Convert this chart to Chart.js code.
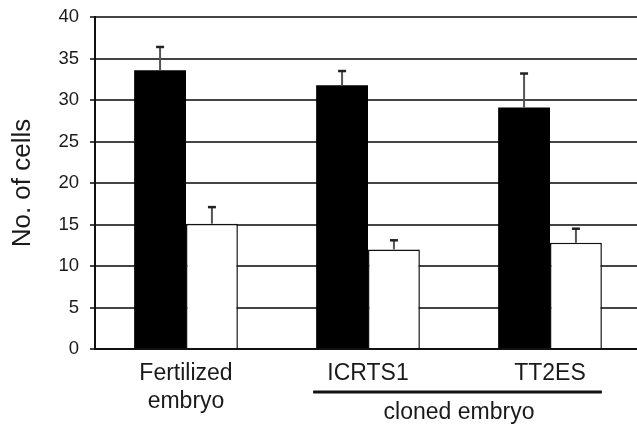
<!DOCTYPE html>
<html>
<head>
<meta charset="utf-8">
<script src="https://cdn.jsdelivr.net/npm/chart.js@4"></script>
<style>
  html, body { margin: 0; padding: 0; background: #fff; overflow: hidden; }
  #wrap { width: 641px; height: 433px; margin-top: -5px; }
</style>
</head>
<body>
<div id="wrap"><canvas id="cellChart" width="641" height="433"></canvas></div>
<script>
const categories = [["Fertilized", "embryo"], "ICRTS1", "TT2ES"];
const blackValues = [33.6, 31.8, 29.1];
const blackErrors = [2.8, 1.7, 4.1];
const whiteValues = [15.1, 12.0, 12.8];
const whiteErrors = [2.0, 1.1, 1.7];
const yTicks = [0, 5, 10, 15, 20, 25, 30, 35, 40];
const groupLabel = "cloned embryo";

const FONT = "'Liberation Sans', Arial, sans-serif";

// upward-only error bars
const errorBars = {
  id: "errorBars",
  afterDatasetsDraw(chart) {
    const ctx = chart.ctx;
    const y = chart.scales.y;
    chart.data.datasets.forEach((ds, i) => {
      const meta = chart.getDatasetMeta(i);
      meta.data.forEach((bar, j) => {
        const top = y.getPixelForValue(ds.data[j] + ds.errors[j]);
        ctx.save();
        ctx.strokeStyle = "#555";
        ctx.lineWidth = 2;
        ctx.beginPath();
        ctx.moveTo(bar.x, bar.y);
        ctx.lineTo(bar.x, top);
        ctx.stroke();
        ctx.strokeStyle = "#222";
        ctx.lineWidth = 2.5;
        ctx.beginPath();
        ctx.moveTo(bar.x - 4, top);
        ctx.lineTo(bar.x + 4, top);
        ctx.stroke();
        ctx.restore();
      });
    });
  }
};

// bracket line and label under the cloned groups
const groupBracket = {
  id: "groupBracket",
  afterDraw(chart) {
    const ctx = chart.ctx;
    const xs = chart.scales.x;
    const base = chart.chartArea.bottom;
    const bw = chart.getDatasetMeta(0).data[0].width;
    const x1 = xs.getPixelForValue(1);
    const x2 = xs.getPixelForValue(2);
    ctx.save();
    ctx.strokeStyle = "#111";
    ctx.lineWidth = 3;
    ctx.beginPath();
    ctx.moveTo(x1 - bw - 3, base + 43);
    ctx.lineTo(x2 + bw, base + 43);
    ctx.stroke();
    ctx.fillStyle = "#1a1a1a";
    ctx.font = "23px " + FONT;
    ctx.textAlign = "center";
    ctx.textBaseline = "alphabetic";
    ctx.fillText(groupLabel, (x1 + x2) / 2, base + 70);
    ctx.restore();
  }
};

const cellChart = new Chart(document.getElementById("cellChart"), {
  type: "bar",
  data: {
    labels: categories,
    datasets: [
      {
        label: "black",
        data: blackValues,
        errors: blackErrors,
        backgroundColor: "#000",
        borderWidth: 0
      },
      {
        label: "white",
        data: whiteValues,
        errors: whiteErrors,
        backgroundColor: "#fff",
        borderColor: "#111",
        borderWidth: 1.5
      }
    ]
  },
  options: {
    responsive: false,
    devicePixelRatio: 1,
    animation: false,
    layout: { padding: { top: 10, left: 0, right: 0, bottom: 0 } },
    datasets: { bar: { barPercentage: 1, categoryPercentage: 0.57 } },
    plugins: { legend: { display: false }, tooltip: { enabled: false } },
    scales: {
      x: {
        afterFit(scale) { scale.height = 79; },
        grid: { display: true, drawOnChartArea: false, drawTicks: false },
        border: { display: true, color: "#111", width: 2 },
        ticks: { color: "#1a1a1a", font: { family: FONT, size: 23 }, padding: 11, maxRotation: 0 }
      },
      y: {
        min: 0,
        max: 40,
        afterFit(scale) { scale.width = 95; },
        afterBuildTicks(scale) { scale.ticks = yTicks.map(v => ({ value: v })); },
        grid: { color: "#444", lineWidth: 2, tickLength: 5, drawTicks: true },
        border: { display: true, color: "#111", width: 2 },
        ticks: { color: "#1a1a1a", font: { family: FONT, size: 18.5 }, padding: 11 },
        title: {
          display: true,
          text: "No. of cells",
          color: "#1a1a1a",
          font: { family: FONT, size: 26 },
          padding: { top: 7, bottom: 0 }
        }
      }
    }
  },
  plugins: [errorBars, groupBracket]
});
</script>
</body>
</html>
